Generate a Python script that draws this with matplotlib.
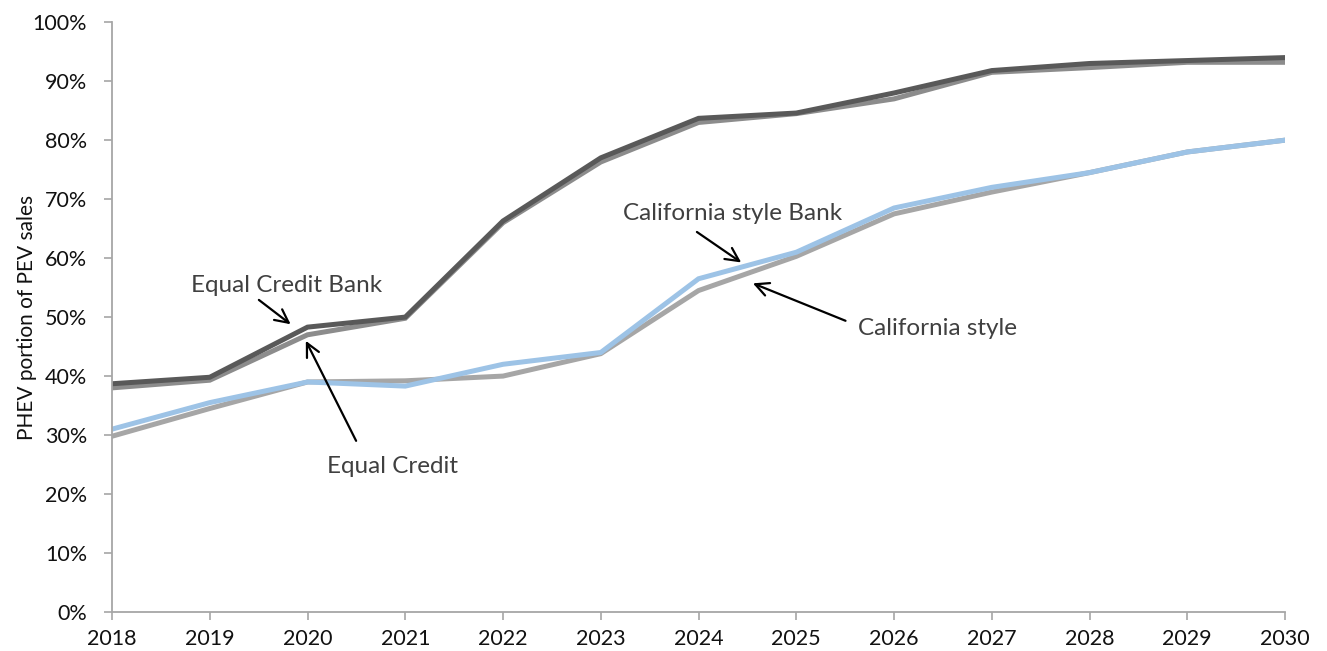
import matplotlib.pyplot as plt
from matplotlib.ticker import PercentFormatter

# PHEV share of PEV sales under four credit scenarios
years = list(range(2018, 2031))
equal_credit = [38.0, 39.3, 47.0, 49.8, 66.0, 76.3, 83.0, 84.5, 87.0, 91.5, 92.3, 93.2, 93.2]
equal_credit_bank = [38.7, 39.8, 48.3, 50.0, 66.3, 77.0, 83.7, 84.6, 88.0, 91.8, 93.0, 93.5, 94.0]
california = [29.8, 34.5, 39.0, 39.2, 40.0, 43.8, 54.5, 60.3, 67.5, 71.2, 74.5, 78.0, 80.0]
california_bank = [31.0, 35.5, 39.0, 38.3, 42.0, 44.0, 56.5, 61.0, 68.5, 72.0, 74.5, 78.0, 80.0]

plt.rcParams['font.family'] = ['Lato', 'DejaVu Sans']

fig = plt.figure(figsize=(13.27, 6.51), dpi=100)
ax = fig.add_axes([0.0844, 0.0599, 0.884, 0.906])

ax.plot(years, california, color='#a6a6a6', linewidth=3.6, solid_joinstyle='miter')
ax.plot(years, california_bank, color='#9dc3e6', linewidth=3.6, solid_joinstyle='miter')
ax.plot(years, equal_credit, color='#8c8c8c', linewidth=3.6, solid_joinstyle='miter')
ax.plot(years, equal_credit_bank, color='#595959', linewidth=3.6, solid_joinstyle='miter')

ax.set_xlim(2018, 2030)
ax.set_ylim(0, 100)
ax.set_xticks(years)
ax.set_yticks(range(0, 101, 10))
ax.yaxis.set_major_formatter(PercentFormatter(decimals=0))
ax.set_ylabel('PHEV portion of PEV sales', fontsize=15, color='#111111', labelpad=-3)

for side in ['top', 'right']:
    ax.spines[side].set_visible(False)
for side in ['left', 'bottom']:
    ax.spines[side].set_color('#a6a6a6')
    ax.spines[side].set_linewidth(1.3)
ax.tick_params(axis='both', colors='#a6a6a6', length=6, width=1.2,
               labelsize=15.5, labelcolor='#111111')
ax.tick_params(axis='y', pad=12)
ax.tick_params(axis='x', pad=6)

arrow = dict(arrowstyle='->', color='black', lw=1.6, mutation_scale=24)
label_kw = dict(fontsize=17.5, color='#404040')

ax.annotate('', xy=(2019.85, 48.5), xytext=(2019.48, 53.2), arrowprops=arrow)
ax.text(2019.79, 55.3, 'Equal Credit Bank', ha='center', va='center', **label_kw)

ax.annotate('', xy=(2019.97, 46.4), xytext=(2020.51, 28.6), arrowprops=arrow)
ax.text(2020.87, 24.7, 'Equal Credit', ha='center', va='center', **label_kw)

ax.annotate('', xy=(2024.46, 59.0), xytext=(2023.96, 64.7), arrowprops=arrow)
ax.text(2024.35, 67.5, 'California style Bank', ha='center', va='center', **label_kw)

ax.annotate('', xy=(2024.53, 55.9), xytext=(2025.53, 49.2), arrowprops=arrow)
ax.text(2025.63, 48.0, 'California style', ha='left', va='center', **label_kw)

fig.savefig('out.png', dpi=100)
